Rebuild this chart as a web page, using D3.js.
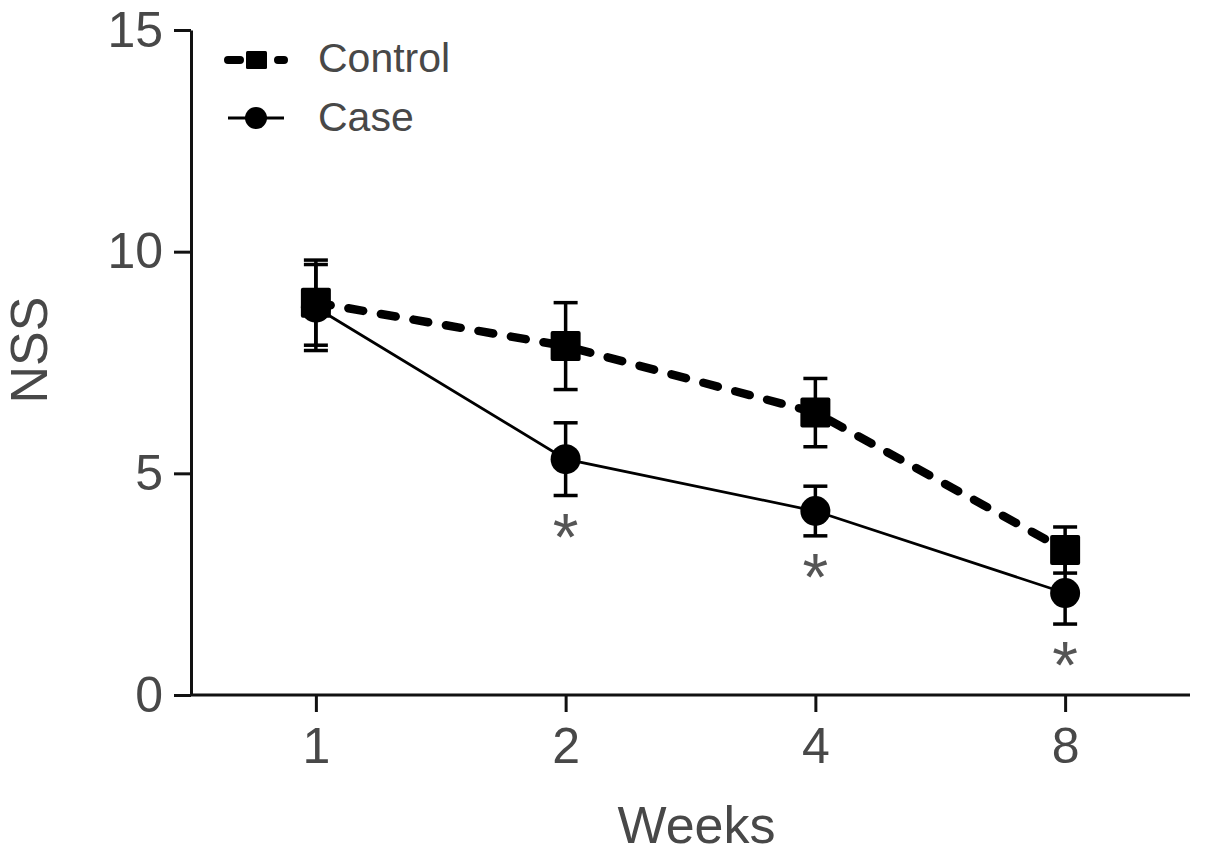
<!DOCTYPE html>
<html>
<head>
<meta charset="utf-8">
<script src="https://cdn.jsdelivr.net/npm/d3@7"></script>
<style>
  html, body { margin: 0; padding: 0; background: #fff; }
  svg { display: block; font-family: "Liberation Sans", Arial, sans-serif; }
</style>
</head>
<body>
<svg id="chart" width="1205" height="856"></svg>
<script>
// ---- data ----
const weeks = ["1", "2", "4", "8"];
const controlMean = [8.85, 7.87, 6.37, 3.27];
const controlErr  = [0.96, 0.98, 0.77, 0.52];
const caseMean    = [8.74, 5.32, 4.15, 2.30];
const caseErr     = [0.97, 0.82, 0.56, 0.70];
const significant = ["2", "4", "8"];
const yTicks = [0, 5, 10, 15];
const seriesNames = ["Control", "Case"];
const xTitle = "Weeks";
const yTitle = "NSS";

(function () {
// ---- layout ----
const svg = d3.select("#chart");
const pLeft = 191, pRight = 1190, pTop = 30, pBottom = 695;
const textColor = "#484848";

const x = d3.scalePoint().domain(weeks).range([pLeft, pRight]).padding(0.5);
const y = d3.scaleLinear().domain([0, 15]).range([pBottom, pTop]);

// axes
const yAxis = svg.append("g").attr("transform", `translate(${pLeft},0)`)
  .call(d3.axisLeft(y).tickValues(yTicks).tickSize(17).tickSizeOuter(0).tickPadding(11));
const xAxis = svg.append("g").attr("transform", `translate(0,${pBottom})`)
  .call(d3.axisBottom(x).tickSize(17).tickSizeOuter(0).tickPadding(15));
[yAxis, xAxis].forEach(g => {
  g.selectAll("path, line").attr("stroke", "#111").attr("stroke-width", 3);
  g.selectAll("text").attr("fill", textColor).style("font-size", "50px")
    .style("font-family", '"Liberation Sans", Arial, sans-serif');
});
xAxis.select("path.domain").attr("d", `M${pLeft},0H${pRight}`);

// axis titles
svg.append("text").attr("x", (pLeft + pRight) / 2 + 6).attr("y", 843)
  .attr("text-anchor", "middle").attr("fill", textColor)
  .style("font-size", "52px").text(xTitle);
svg.append("text").attr("transform", `translate(47,350) rotate(-90)`)
  .attr("text-anchor", "middle").attr("fill", textColor)
  .style("font-size", "52px").text(yTitle);

const ctrl = weeks.map((w, i) => ({ w, m: controlMean[i], e: controlErr[i] }));
const cs = weeks.map((w, i) => ({ w, m: caseMean[i], e: caseErr[i] }));

const line = d3.line().x(d => x(d.w)).y(d => y(d.m));

function errorBars(data) {
  const g = svg.append("g").attr("stroke", "#000").attr("stroke-width", 3.5);
  g.selectAll("line.v").data(data).join("line").attr("class", "v")
    .attr("x1", d => x(d.w)).attr("x2", d => x(d.w))
    .attr("y1", d => y(d.m + d.e)).attr("y2", d => y(d.m - d.e));
  g.selectAll("line.t").data(data).join("line").attr("class", "t")
    .attr("x1", d => x(d.w) - 12).attr("x2", d => x(d.w) + 12)
    .attr("y1", d => y(d.m + d.e)).attr("y2", d => y(d.m + d.e));
  g.selectAll("line.b").data(data).join("line").attr("class", "b")
    .attr("x1", d => x(d.w) - 12).attr("x2", d => x(d.w) + 12)
    .attr("y1", d => y(d.m - d.e)).attr("y2", d => y(d.m - d.e));
}

// Case series
errorBars(cs);
svg.append("path").datum(cs).attr("d", line)
  .attr("fill", "none").attr("stroke", "#000").attr("stroke-width", 2.8);
svg.selectAll("circle.case").data(cs).join("circle").attr("class", "case")
  .attr("cx", d => x(d.w)).attr("cy", d => y(d.m)).attr("r", 15).attr("fill", "#000");

// Control series
errorBars(ctrl);
svg.append("path").datum(ctrl).attr("d", line)
  .attr("fill", "none").attr("stroke", "#000").attr("stroke-width", 8.5)
  .attr("stroke-dasharray", "15,18").attr("stroke-linecap", "round");
svg.selectAll("rect.ctrl").data(ctrl).join("rect").attr("class", "ctrl")
  .attr("x", d => x(d.w) - 15).attr("y", d => y(d.m) - 15)
  .attr("width", 30).attr("height", 30).attr("rx", 2).attr("fill", "#000");

// significance markers
svg.selectAll("text.star").data(cs.filter(d => significant.includes(d.w))).join("text")
  .attr("class", "star")
  .attr("x", d => x(d.w)).attr("y", d => y(d.m - d.e) + 27 + 37)
  .attr("text-anchor", "middle").attr("fill", "#555")
  .style("font-size", "66px").text("*");

// legend
const lg = svg.append("g");
lg.append("line").attr("x1", 228).attr("x2", 284).attr("y1", 60).attr("y2", 60)
  .attr("stroke", "#000").attr("stroke-width", 8)
  .attr("stroke-dasharray", "12,38").attr("stroke-linecap", "round");
lg.append("rect").attr("x", 246).attr("y", 51).attr("width", 21).attr("height", 18)
  .attr("rx", 1.5).attr("fill", "#000");
lg.append("line").attr("x1", 228).attr("x2", 284).attr("y1", 118).attr("y2", 118)
  .attr("stroke", "#000").attr("stroke-width", 2.8);
lg.append("circle").attr("cx", 256).attr("cy", 118).attr("r", 11).attr("fill", "#000");
lg.selectAll("text").data(seriesNames).join("text")
  .attr("x", 318).attr("y", (d, i) => 72 + i * 59)
  .attr("fill", textColor).style("font-size", "41px").text(d => d);
})();
</script>
</body>
</html>
